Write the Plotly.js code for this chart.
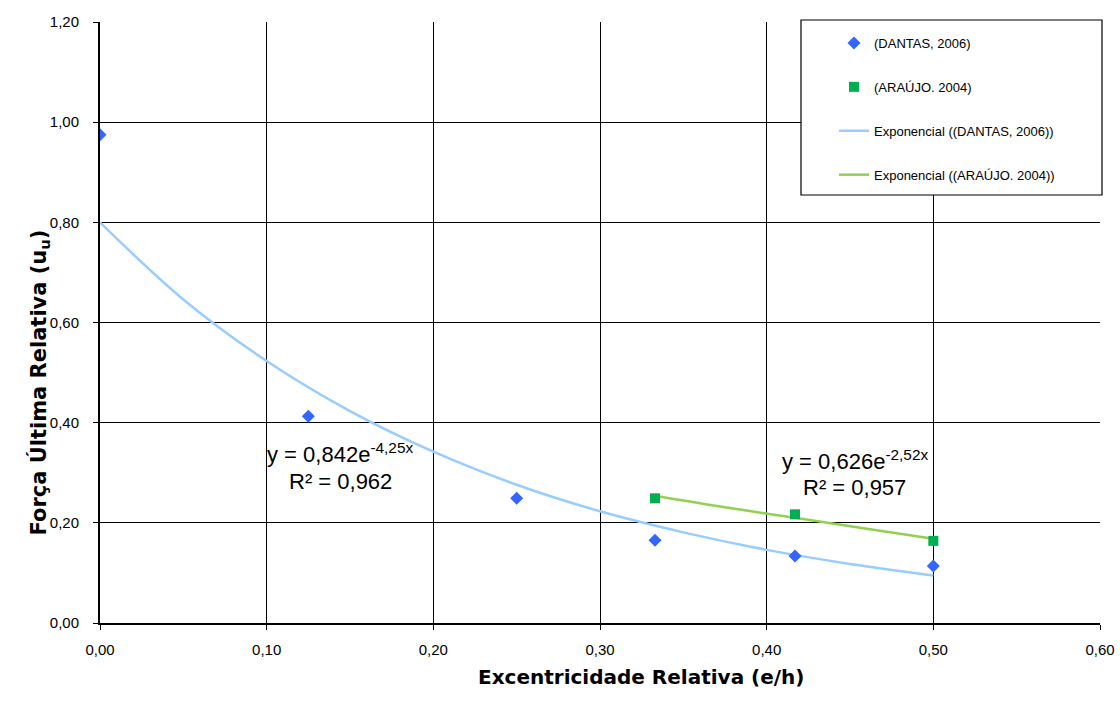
<!DOCTYPE html>
<html><head><meta charset="utf-8">
<script src="https://cdn.plot.ly/plotly-3.0.1.min.js"></script>
<style>body{margin:0;background:#fff}#c{width:1120px;height:705px}</style>
</head><body><div id="c"></div>
<script>
// Data
const dantasX = [0, 0.125, 0.25, 0.333, 0.417, 0.5];
const dantasY = [0.975, 0.413, 0.249, 0.165, 0.134, 0.114];
const araujoX = [0.333, 0.417, 0.5];
const araujoY = [0.249, 0.217, 0.164];
// Trendline points
const trendDantasX = [0, 0.05, 0.10, 0.15, 0.20, 0.25, 0.30, 0.35, 0.40, 0.45, 0.50];
const trendDantasY = [0.800, 0.646, 0.523, 0.423, 0.342, 0.276, 0.223, 0.181, 0.146, 0.118, 0.095];
const trendAraujoX = [0.333, 0.375, 0.417, 0.458, 0.5];
const trendAraujoY = [0.254, 0.231, 0.210, 0.189, 0.168];
const names = ['(DANTAS, 2006)', '(ARAÚJO. 2004)', 'Exponencial ((DANTAS, 2006))', 'Exponencial ((ARAÚJO. 2004))'];
const eq1a = 'y = 0,842e<sup>-4,25x</sup>', eq1b = 'R² = 0,962';
const eq2a = 'y = 0,626e<sup>-2,52x</sup>', eq2b = 'R² = 0,957';
const xTitle = '<b>Excentricidade Relativa (e/h)</b>';
const yTitle = '<b>Força Última Relativa (u<sub>u</sub>)</b>';

const tDantas = {x: dantasX, y: dantasY, mode: 'markers', type: 'scatter', name: names[0], legendgroup: 'a', legendrank: 1,
   marker: {symbol: 'diamond', size: 10, color: '#3366FF'}};
const tAraujo = {x: araujoX, y: araujoY, mode: 'markers', type: 'scatter', name: names[1], legendgroup: 'b', legendrank: 2,
   marker: {symbol: 'square', size: 10, color: '#00B050'}};
const tTrendD = {x: trendDantasX, y: trendDantasY, mode: 'lines', type: 'scatter', name: names[2], legendgroup: 'c', legendrank: 3,
   line: {color: '#99CCFF', width: 2.5, shape: 'spline'}};
const tTrendA = {x: trendAraujoX, y: trendAraujoY, mode: 'lines', type: 'scatter', name: names[3], legendgroup: 'd', legendrank: 4,
   line: {color: '#92D050', width: 2.5, shape: 'spline'}};

const PL = 100, PT = 22, PW = 1000, PH = 601;
const px = v => (v - PL) / PW;          // pixel x -> paper
const py = v => (PT + PH - v) / PH;     // pixel y -> paper

const eqFont = {size: 22, family: 'Liberation Sans, Arial, sans-serif', color: '#000'};
const layout = {
  width: 1120, height: 705,
  margin: {l: PL, r: 1120 - PL - PW, t: PT, b: 705 - PT - PH},
  paper_bgcolor: '#fff', plot_bgcolor: '#fff',
  separators: ',.',
  font: {family: 'Liberation Sans, Arial, sans-serif', color: '#000', size: 15},
  xaxis: {
    range: [0, 0.6], dtick: 0.1, tick0: 0, tickformat: '.2f',
    showgrid: true, gridcolor: '#000', gridwidth: 1,
    showline: true, linecolor: '#000', linewidth: 2,
    ticks: 'outside', ticklen: 5, tickcolor: '#000',
    zeroline: false, fixedrange: true, ticklabelstandoff: 7,
    tickfont: {size: 15}
  },
  yaxis: {
    range: [0, 1.2], dtick: 0.2, tick0: 0, tickformat: '.2f',
    showgrid: true, gridcolor: '#000', gridwidth: 1,
    showline: true, linecolor: '#000', linewidth: 2,
    ticks: 'outside', ticklen: 5, tickcolor: '#000',
    zeroline: false, fixedrange: true, ticklabelstandoff: 11,
    tickfont: {size: 15}
  },
  showlegend: true,
  legend: {
    x: px(834), y: py(28), xanchor: 'left', yanchor: 'top',
    bgcolor: 'rgba(0,0,0,0)', borderwidth: 0,
    font: {size: 13}, traceorder: 'grouped', tracegroupgap: 24,
    itemwidth: 30
  },
  shapes: [
    {type: 'rect', xref: 'paper', yref: 'paper', x0: px(801), x1: px(1102), y0: py(195), y1: py(20),
     fillcolor: '#fff', line: {color: '#000', width: 1.2}, layer: 'above'}
  ],
  annotations: [
    {x: 0.144, y: 0.339, xref: 'x', yref: 'y', text: eq1a, showarrow: false, font: eqFont},
    {x: 0.144, y: 0.2835, xref: 'x', yref: 'y', text: eq1b, showarrow: false, font: eqFont},
    {x: 0.453, y: 0.3255, xref: 'x', yref: 'y', text: eq2a, showarrow: false, font: eqFont},
    {x: 0.4524, y: 0.2696, xref: 'x', yref: 'y', text: eq2b, showarrow: false, font: eqFont},
    {x: px(641), y: py(691), xref: 'paper', yref: 'paper', text: xTitle, showarrow: false,
     font: {size: 20, family: 'DejaVu Sans, sans-serif', color: '#000'}},
    {x: px(23), y: py(383), xref: 'paper', yref: 'paper', text: yTitle, showarrow: false, textangle: -90,
     font: {size: 21, family: 'DejaVu Sans, sans-serif', color: '#000'}}
  ]
};
Plotly.newPlot('c', [tTrendD, tTrendA, tDantas, tAraujo], layout, {displayModeBar: false, staticPlot: true});
</script></body></html>
